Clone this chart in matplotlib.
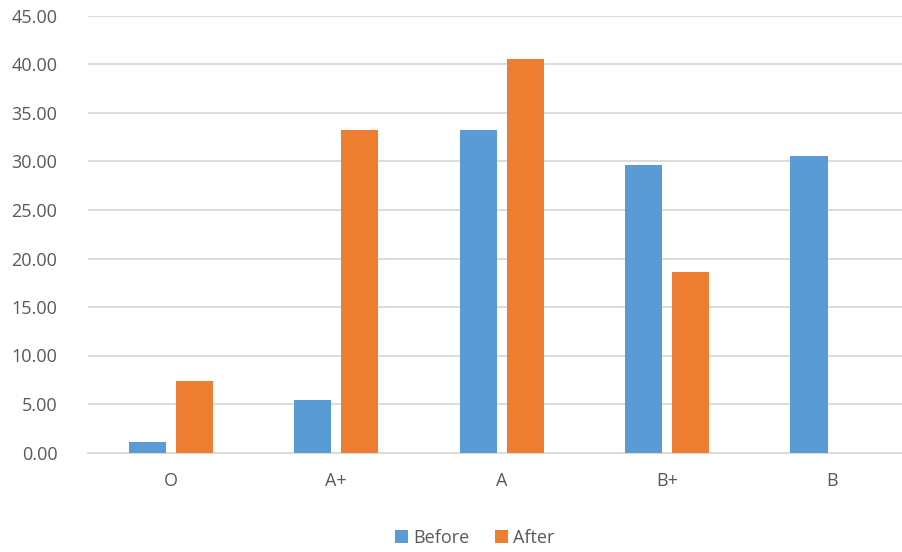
import matplotlib
matplotlib.use("Agg")
import matplotlib.pyplot as plt
import numpy as np

categories = ["O", "A+", "A", "B+", "B"]
before = [1.04, 5.46, 33.2, 29.6, 30.6]
after = [7.4, 33.2, 40.6, 18.6, 0.0]
yticks = [0, 5, 10, 15, 20, 25, 30, 35, 40, 45]

plt.rcParams['font.family'] = ['Open Sans', 'DejaVu Sans']
text_color = '#595959'

W, H = 902, 552
fig = plt.figure(figsize=(W / 100, H / 100), dpi=100)
ax = fig.add_axes([88 / W, 1 - 452.5 / H, (W - 88) / W, (452.5 - 16) / H])

x = np.arange(len(categories))
bw = 0.224
off = 0.142
ax.bar(x - off, before, width=bw, color='#5B9BD5', label='Before', zorder=3)
ax.bar(x + off, after, width=bw, color='#ED7D31', label='After', zorder=3)

ax.set_xlim(-0.5, 4.42)
ax.set_ylim(0, 45)
ax.set_yticks(yticks)
ax.set_yticklabels([f"{v:.2f}" for v in yticks])
ax.set_xticks(x)
ax.set_xticklabels(categories)
ax.grid(axis='y', color='#D9D9D9', linewidth=1.3, zorder=0)
for s in ['top', 'right', 'left']:
    ax.spines[s].set_visible(False)
ax.spines['bottom'].set_color('#D9D9D9')
ax.spines['bottom'].set_linewidth(1.3)
ax.tick_params(axis='both', length=0, colors=text_color, labelsize=13)
ax.tick_params(axis='y', pad=22)
ax.tick_params(axis='x', pad=14)

handles, labels = ax.get_legend_handles_labels()
fig.legend(handles, labels, loc='center', bbox_to_anchor=(475 / W, 1 - 538 / H),
           ncol=2, frameon=False, fontsize=13, labelcolor=text_color,
           handlelength=0.7, handleheight=0.7, handletextpad=0.3, columnspacing=1.4)

fig.savefig("out.png", dpi=100)
